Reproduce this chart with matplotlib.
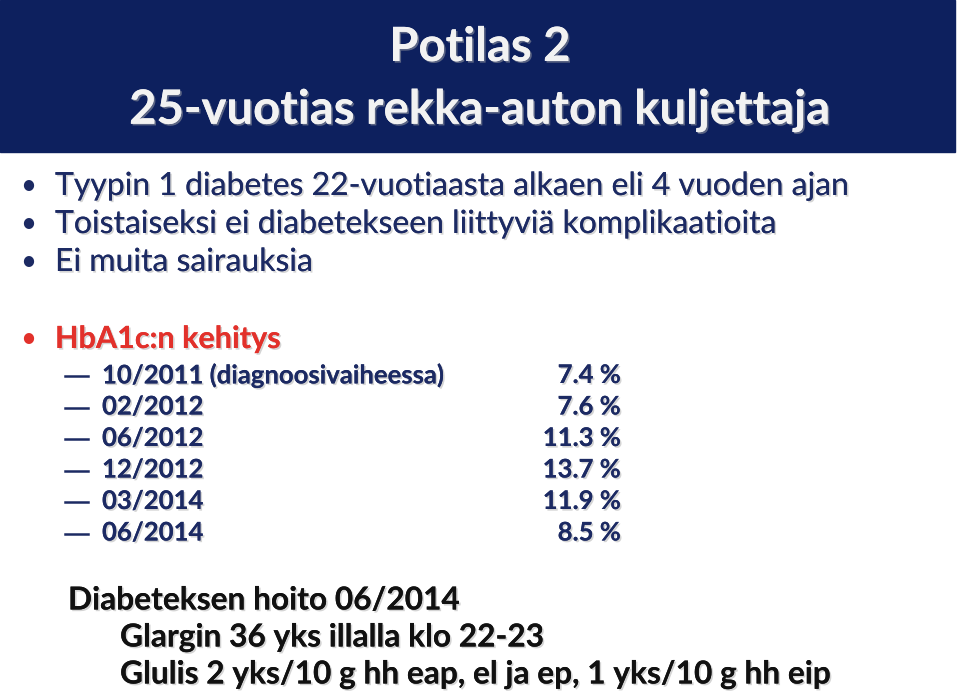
import matplotlib.pyplot as plt
from matplotlib.patches import Rectangle
import matplotlib.patheffects as pe

title_lines = ["Potilas 2", "25-vuotias rekka-auton kuljettaja"]
bullets = ["Tyypin 1 diabetes 22-vuotiaasta alkaen eli 4 vuoden ajan",
           "Toistaiseksi ei diabetekseen liittyviä komplikaatioita",
           "Ei muita sairauksia"]
hba1c_title = "HbA1c:n kehitys"
dates = ["10/2011 (diagnoosivaiheessa)", "02/2012", "06/2012",
         "12/2012", "03/2014", "06/2014"]
hba1c = [7.4, 7.6, 11.3, 13.7, 11.9, 8.5]
treatment = ["Diabeteksen hoito 06/2014",
             "Glargin 36 yks illalla klo 22-23",
             "Glulis 2 yks/10 g hh eap, el ja ep, 1 yks/10 g hh eip"]

navy = "#1c2a63"
red = "#e2312b"
font = "Lato"
shadow = [pe.withSimplePatchShadow(offset=(1.2, -1.2), shadow_rgbFace="#aaaaaa", alpha=0.5), pe.Normal()]

fig = plt.figure(figsize=(9.59, 6.95), dpi=100)
ax = fig.add_axes([0, 0, 1, 1])
ax.set_xlim(0, 959)
ax.set_ylim(695, 0)
ax.axis("off")

ax.add_patch(Rectangle((0, 0), 955, 152, color="#0d205e"))
ax.text(480, 47, title_lines[0], color="#f2f2f2", fontsize=34, fontweight="bold",
        family=font, ha="center", va="center", path_effects=shadow)
ax.text(480, 110, title_lines[1], color="#f2f2f2", fontsize=34, fontweight="bold",
        family=font, ha="center", va="center", path_effects=shadow)

for i, b in enumerate(bullets):
    y = 186 + i * 38
    ax.text(20, y, "•", color=navy, fontsize=20, family=font, va="center")
    ax.text(55, y, b, color=navy, fontsize=23, family=font, va="center",
            path_effects=shadow)

ax.text(20, 339, "•", color=red, fontsize=20, family=font, va="center")
ax.text(55, 339, hba1c_title, color=red, fontsize=22, fontweight="bold",
        family=font, va="center", path_effects=shadow)

for i, (d, v) in enumerate(zip(dates, hba1c)):
    y = 375 + i * 31.5
    ax.plot([65, 88], [y + 1, y + 1], color=navy, lw=1.8)
    ax.text(102, y, d, color=navy, fontsize=18.5, fontweight="bold", family=font,
            va="center", path_effects=shadow)
    ax.text(621, y, f"{v:.1f} %", color=navy, fontsize=18.5, fontweight="bold",
            family=font, va="center", ha="right", path_effects=shadow)

for i, (t, x) in enumerate(zip(treatment, [68, 120, 120])):
    ax.text(x, 600 + i * 37, t, color="#111111", fontsize=22.8, fontweight="bold",
            family=font, va="center", path_effects=shadow)

fig.savefig("out.png", dpi=100)
